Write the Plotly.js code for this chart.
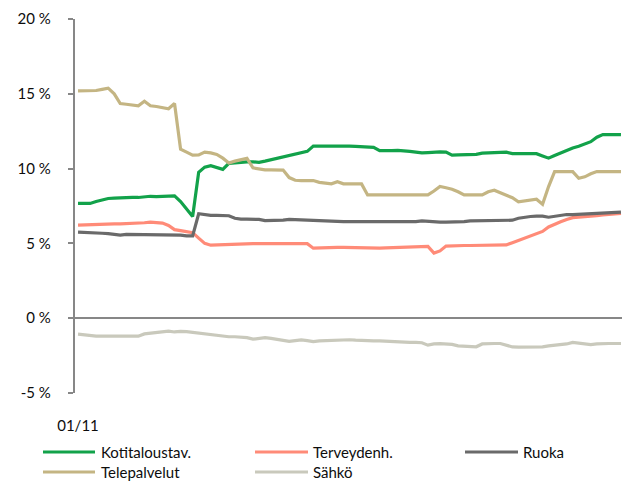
<!DOCTYPE html>
<html>
<head>
<meta charset="utf-8">
<script src="https://cdn.plot.ly/plotly-3.0.1.min.js"></script>
<style>
  html, body { margin: 0; padding: 0; background: #fff; }
  #chart { width: 630px; height: 482px; }
</style>
</head>
<body>
<div id="chart"></div>
<script>
// ---- Data ----
const seriesNames = ["Kotitaloustav.", "Terveydenh.", "Ruoka", "Telepalvelut", "Sähkö"];
const xLabel = "01/11";

// shared x positions (observation number, the first one is 01/11)
const obs = [];
for (let i = 0; i <= 90; i++) obs.push(i);

const kotitaloustav = [
  7.67, 7.67, 7.67, 7.80, 7.90, 8.00, 8.02, 8.05, 8.05, 8.07,
  8.07, 8.12, 8.15, 8.12, 8.15, 8.18, 8.18, 7.80, 7.30, 6.80,
  9.75, 10.10, 10.20, 10.05, 9.95, 10.35, 10.40, 10.42, 10.45, 10.45,
  10.42, 10.50, 10.60, 10.70, 10.78, 10.90, 11.00, 11.10, 11.15, 11.50,
  11.50, 11.50, 11.52, 11.55, 11.55, 11.50, 11.48, 11.45, 11.45, 11.42,
  11.20, 11.18, 11.20, 11.22, 11.20, 11.15, 11.10, 11.05, 11.07, 11.10,
  11.12, 11.10, 10.90, 10.92, 10.93, 10.93, 10.95, 11.03, 11.05, 11.05,
  11.07, 11.10, 11.00, 11.00, 11.00, 11.00, 11.00, 10.85, 10.70, 10.88,
  11.05, 11.20, 11.38, 11.50, 11.65, 11.80, 12.10, 12.27, 12.28, 12.28,
  12.27
];

const terveydenh = [
  6.22, 6.24, 6.26, 6.27, 6.28, 6.29, 6.30, 6.30, 6.31, 6.32,
  6.33, 6.38, 6.42, 6.40, 6.36, 6.20, 5.92, 5.85, 5.78, 5.72,
  5.35, 5.00, 4.88, 4.90, 4.93, 4.95, 4.96, 4.97, 4.98, 4.98,
  4.98, 4.98, 4.98, 4.98, 4.98, 4.98, 4.98, 4.98, 4.98, 4.68,
  4.68, 4.70, 4.72, 4.73, 4.74, 4.73, 4.70, 4.68, 4.66, 4.65,
  4.68, 4.70, 4.72, 4.74, 4.76, 4.78, 4.79, 4.80, 4.80, 4.35,
  4.50, 4.82, 4.85, 4.86, 4.86, 4.86, 4.86, 4.87, 4.87, 4.88,
  4.89, 4.90, 5.05, 5.20, 5.35, 5.50, 5.65, 5.80, 6.10, 6.30,
  6.45, 6.60, 6.72, 6.76, 6.78, 6.80, 6.85, 6.90, 6.95, 6.98,
  7.00
];

const ruoka = [
  5.76, 5.75, 5.72, 5.70, 5.68, 5.65, 5.60, 5.55, 5.60, 5.60,
  5.60, 5.60, 5.60, 5.60, 5.60, 5.60, 5.58, 5.55, 5.50, 5.50,
  6.98, 6.90, 6.87, 6.87, 6.87, 6.85, 6.68, 6.62, 6.62, 6.60,
  6.60, 6.52, 6.52, 6.52, 6.55, 6.60, 6.58, 6.55, 6.52, 6.52,
  6.50, 6.48, 6.47, 6.45, 6.45, 6.45, 6.45, 6.45, 6.45, 6.44,
  6.43, 6.42, 6.42, 6.42, 6.42, 6.42, 6.45, 6.50, 6.47, 6.42,
  6.42, 6.42, 6.42, 6.42, 6.45, 6.50, 6.50, 6.50, 6.50, 6.52,
  6.52, 6.53, 6.55, 6.68, 6.76, 6.80, 6.82, 6.82, 6.75, 6.82,
  6.90, 6.93, 6.93, 6.95, 6.97, 6.98, 7.00, 7.04, 7.06, 7.08,
  7.09
];

const telepalvelut = [
  15.20, 15.20, 15.20, 15.22, 15.30, 15.38, 15.00, 14.35, 14.30, 14.25,
  14.20, 14.50, 14.20, 14.15, 14.05, 14.00, 14.35, 11.30, 11.10, 10.90,
  10.92, 11.10, 11.05, 10.95, 10.70, 10.38, 10.50, 10.60, 10.68, 10.05,
  9.98, 9.92, 9.92, 9.92, 9.90, 9.40, 9.22, 9.20, 9.20, 9.20,
  9.08, 9.05, 8.98, 9.12, 8.98, 8.98, 8.98, 8.98, 8.24, 8.24,
  8.24, 8.24, 8.24, 8.24, 8.24, 8.24, 8.24, 8.24, 8.24, 8.50,
  8.80, 8.72, 8.62, 8.45, 8.24, 8.24, 8.24, 8.24, 8.45, 8.55,
  8.38, 8.20, 8.05, 7.78, 7.82, 7.88, 7.95, 7.62, 8.80, 9.80,
  9.80, 9.80, 9.80, 9.35, 9.45, 9.65, 9.80, 9.80, 9.80, 9.80,
  9.80
];

const sahko = [
  -1.07, -1.12, -1.18, -1.20, -1.20, -1.20, -1.20, -1.20, -1.20, -1.20,
  -1.20, -1.05, -1.00, -0.95, -0.90, -0.86, -0.92, -0.88, -0.90, -0.95,
  -1.00, -1.03, -1.08, -1.15, -1.22, -1.24, -1.24, -1.26, -1.30, -1.40,
  -1.35, -1.30, -1.35, -1.40, -1.48, -1.55, -1.50, -1.45, -1.50, -1.56,
  -1.52, -1.50, -1.47, -1.44, -1.42, -1.44, -1.47, -1.50, -1.50, -1.51,
  -1.52, -1.55, -1.58, -1.60, -1.60, -1.62, -1.62, -1.64, -1.80, -1.72,
  -1.70, -1.70, -1.75, -1.85, -1.88, -1.90, -1.91, -1.72, -1.69, -1.69,
  -1.69, -1.80, -1.92, -1.93, -1.93, -1.93, -1.92, -1.92, -1.85, -1.80,
  -1.78, -1.72, -1.62, -1.68, -1.75, -1.76, -1.72, -1.69, -1.69, -1.69,
  -1.69
];

const yTickVals = [-5, 0, 5, 10, 15, 20];
const yTickText = ["-5 %", "0 %", "5 %", "10 %", "15 %", "20 %"];

// ---- Styling ----
const colors = ["#12A24A", "#FF8B78", "#6A6A6A", "#C4B583", "#C9C9BC"];
const allValues = [kotitaloustav, terveydenh, ruoka, telepalvelut, sahko];
const FONT = "Lato, 'Open Sans', sans-serif";
const TXT = "#0d0d0d";
const FS = 15;

const traces = allValues.map((vals, k) => ({
  type: "scatter",
  mode: "lines",
  name: seriesNames[k],
  x: obs,
  y: vals,
  line: { color: colors[k], width: 3.2 },
  hoverinfo: "skip",
  showlegend: false
}));

// plot-area geometry (pixels)
const W = 630, H = 482;
const M = { l: 75, r: 8, t: 19, b: 89 };
const pw = W - M.l - M.r, ph = H - M.t - M.b;
const px2x = px => (px - M.l) / pw;
const py2y = py => (H - M.b - py) / ph;

// custom legend: 3 columns, 2 rows
const legCols = [{ x0: 43, x1: 95, tx: 99 }, { x0: 255, x1: 308, tx: 311 }, { x0: 465, x1: 518, tx: 521 }];
const legRows = [452, 472];
const shapes = [];
const annotations = [];
seriesNames.forEach((nm, k) => {
  const c = legCols[k % 3], r = legRows[Math.floor(k / 3)];
  shapes.push({
    type: "line", xref: "paper", yref: "paper",
    x0: px2x(c.x0), x1: px2x(c.x1), y0: py2y(r), y1: py2y(r),
    line: { color: colors[k], width: 3.2 }
  });
  annotations.push({
    xref: "paper", yref: "paper", x: px2x(c.tx), y: py2y(r),
    xanchor: "left", yanchor: "middle", showarrow: false,
    text: nm, font: { family: FONT, size: FS, color: TXT }
  });
});

const layout = {
  width: W, height: H,
  margin: M,
  paper_bgcolor: "#ffffff",
  plot_bgcolor: "#ffffff",
  showlegend: false,
  hovermode: false,
  font: { family: FONT, size: FS, color: TXT },
  xaxis: {
    range: [-0.5, 90.17],
    showgrid: false, zeroline: false, showline: false,
    ticks: "",
    tickvals: [0], ticktext: [xLabel],
    ticklabelstandoff: 22,
    tickfont: { family: FONT, size: FS, color: TXT },
    fixedrange: true
  },
  yaxis: {
    range: [-5, 20],
    tickvals: yTickVals, ticktext: yTickText,
    showgrid: false,
    zeroline: true, zerolinecolor: "#878787", zerolinewidth: 2.2,
    showline: true, linecolor: "#878787", linewidth: 2.2,
    ticks: "outside", ticklen: 5, tickcolor: "#878787", tickwidth: 2,
    ticklabelstandoff: 14,
    tickfont: { family: FONT, size: FS, color: TXT },
    fixedrange: true
  },
  shapes: shapes,
  annotations: annotations
};

Plotly.newPlot("chart", traces, layout, { displayModeBar: false, staticPlot: true });
</script>
</body>
</html>
